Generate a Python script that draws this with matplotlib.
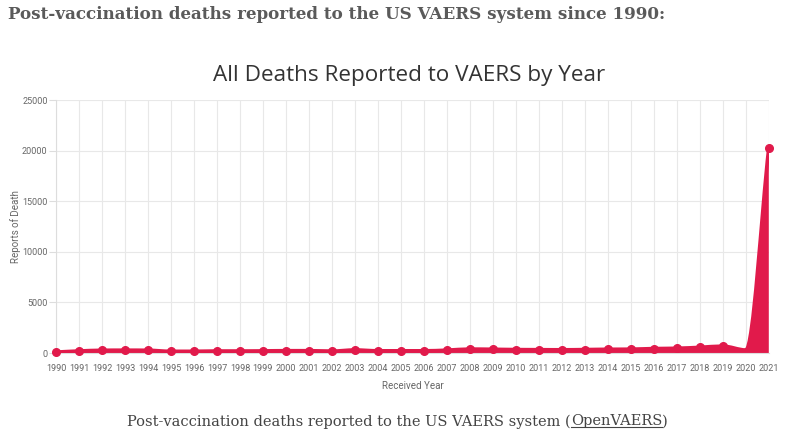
import matplotlib
matplotlib.use("Agg")
import matplotlib.pyplot as plt
from matplotlib.path import Path
from matplotlib.patches import PathPatch
import numpy as np

years = list(range(1990, 2022))
deaths = [90, 200, 270, 280, 270, 170, 170, 200, 200, 210,
          230, 230, 190, 300, 220, 220, 220, 280, 390, 370,
          340, 330, 320, 340, 370, 380, 440, 470, 560, 680,
          300, 20300]
yticks = [0, 5000, 10000, 15000, 20000, 25000]

header = "Post-vaccination deaths reported to the US VAERS system since 1990:"
title = "All Deaths Reported to VAERS by Year"
caption_pre = "Post-vaccination deaths reported to the US VAERS system ("
caption_link = "OpenVAERS"
caption_post = ")"

RED = "#E11A4B"

def monotone_path(x, y):
    x = np.asarray(x, float); y = np.asarray(y, float)
    n = len(x)
    h = np.diff(x); d = np.diff(y) / h
    m = np.zeros(n)
    m[0] = d[0]; m[-1] = d[-1]
    for k in range(1, n - 1):
        if d[k - 1] * d[k] <= 0:
            m[k] = 0
        else:
            m[k] = (d[k - 1] + d[k]) / 2
    for k in range(n - 1):
        if d[k] == 0:
            m[k] = m[k + 1] = 0
            continue
        a = m[k] / d[k]; b = m[k + 1] / d[k]
        s = a * a + b * b
        if s > 9:
            t = 3 / np.sqrt(s)
            m[k] = t * a * d[k]; m[k + 1] = t * b * d[k]
    verts = [(x[0], y[0])]; codes = [Path.MOVETO]
    for k in range(n - 1):
        verts += [(x[k] + h[k] / 3, y[k] + m[k] * h[k] / 3),
                  (x[k + 1] - h[k] / 3, y[k + 1] - m[k + 1] * h[k] / 3),
                  (x[k + 1], y[k + 1])]
        codes += [Path.CURVE4] * 3
    return verts, codes

fig = plt.figure(figsize=(8, 4.3), dpi=100)
fig.patch.set_facecolor("white")
ax = fig.add_axes([0.07, 0.179, 0.891, 0.588])

verts, codes = monotone_path(years, deaths)
fill_verts = verts + [(years[-1], 0), (years[0], 0), (years[0], deaths[0])]
fill_codes = codes + [Path.LINETO, Path.LINETO, Path.CLOSEPOLY]
ax.add_patch(PathPatch(Path(fill_verts, fill_codes), facecolor=RED, edgecolor="none", zorder=2))
ax.add_patch(PathPatch(Path(verts, codes), facecolor="none", edgecolor=RED, lw=2.6, zorder=3))
mk = [i for i in range(len(years)) if i != 30]
ax.plot([years[i] for i in mk], [deaths[i] for i in mk], "o", color=RED, ms=5.5, zorder=4, clip_on=False)

ax.set_xlim(1990, 2021)
ax.set_ylim(0, 25000)
ax.set_xticks(years)
ax.set_yticks(yticks)
tickfont = dict(family=["Liberation Sans Narrow", "Roboto", "DejaVu Sans"], size=6.5)
ax.set_xticklabels([str(y) for y in years], color="#666666", fontdict=tickfont)
ax.set_yticklabels([str(v) for v in yticks], color="#666666", fontdict=tickfont)
ax.grid(True, color="#e8e8e8", lw=0.8, zorder=0)
ax.set_axisbelow(True)
for s in ["top", "right"]:
    ax.spines[s].set_visible(False)
ax.spines["left"].set_color("#dddddd")
ax.spines["bottom"].set_color("#dddddd")
ax.tick_params(axis="y", length=5, color="#dddddd", pad=1)
ax.tick_params(axis="x", length=0, pad=8)
ax.set_ylabel("Reports of Death", fontsize=7, color="#666666", labelpad=1,
              family=["Roboto", "DejaVu Sans"])
ax.set_xlabel("Received Year", fontsize=7, color="#666666", labelpad=6,
              family=["Roboto", "DejaVu Sans"])

fig.text(0.01, 0.967, header, fontsize=12.1, fontweight="bold", color="#5a5a5a",
         family=["DejaVu Serif"], va="center", ha="left")
fig.text(0.512, 0.824, title, fontsize=16.2, color="#333333",
         family=["Open Sans", "DejaVu Sans"], va="center", ha="center")

cap_kw = dict(fontsize=10.5, color="#444444", family=["DejaVu Serif"], va="center")
fig.canvas.draw()
r = fig.canvas.get_renderer()
t1 = fig.text(0, 0.02, caption_pre, ha="left", **cap_kw)
t2 = fig.text(0, 0.02, caption_link, ha="left", **cap_kw)
t3 = fig.text(0, 0.02, caption_post, ha="left", **cap_kw)
w1 = t1.get_window_extent(r).width
w2 = t2.get_window_extent(r).width
w3 = t3.get_window_extent(r).width
W = fig.bbox.width
total = w1 + w2 + w3
x0 = (W * 0.497 - total / 2) / W
t1.set_x(x0)
t2.set_x(x0 + w1 / W)
t3.set_x(x0 + (w1 + w2) / W)
bb = t2.get_window_extent(r)
fig.add_artist(plt.Line2D([bb.x0 / W, bb.x1 / W], [(bb.y0 + 1) / fig.bbox.height] * 2,
                          color="#444444", lw=0.8))

fig.savefig("out.png", dpi=100, facecolor="white")
